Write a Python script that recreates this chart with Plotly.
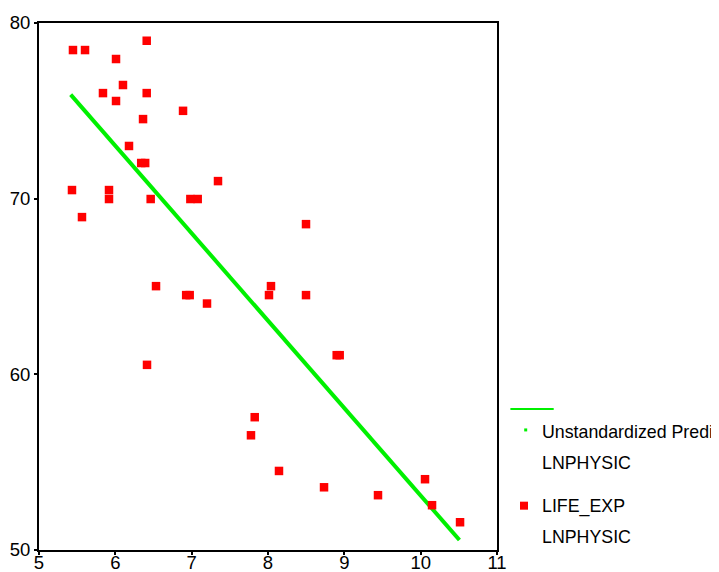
import plotly.graph_objects as go

# Observed data: LIFE_EXP vs LNPHYSIC
lnphysic = [5.445, 5.603, 6.009, 6.411, 6.100, 5.838, 6.411, 6.009, 6.887, 6.363,
            6.179, 6.339, 6.391, 7.345, 5.432, 5.917, 5.917, 6.463, 6.983, 7.079,
            5.563, 8.498, 6.533, 8.039, 8.013, 6.928, 6.974, 7.201, 8.498, 8.900,
            8.939, 6.415, 7.826, 7.777, 8.144, 8.734, 9.441, 10.057, 10.149, 10.516]
life_exp = [78.46, 78.46, 77.95, 78.99, 76.47, 76.01, 76.01, 75.56, 75.00, 74.53,
            73.00, 72.03, 72.03, 71.00, 70.49, 70.49, 69.98, 69.98, 69.98, 69.98,
            68.95, 68.55, 65.02, 65.02, 64.51, 64.51, 64.51, 64.03, 64.51, 61.09,
            61.09, 60.54, 57.56, 56.53, 54.50, 53.57, 53.12, 54.03, 52.55, 51.58]

# Unstandardized predicted values (regression line ends)
pred_x = [5.415, 10.508]
pred_y = [75.92, 50.57]

x_ticks = [5, 6, 7, 8, 9, 10, 11]
y_ticks = [50, 60, 70, 80]

FONT = "Liberation Sans, Arial, sans-serif"
FS = 18.5
FS_LEG = 17.8
GREEN = "#00F000"

fig = go.Figure()
fig.add_trace(go.Scatter(
    x=pred_x, y=pred_y, mode="lines",
    line=dict(color=GREEN, width=4),
    showlegend=False, hoverinfo="skip"))
fig.add_trace(go.Scatter(
    x=lnphysic, y=life_exp, mode="markers",
    marker=dict(symbol="square", size=8.5, color="#FF0000", line=dict(width=0)),
    showlegend=False))

axis_common = dict(
    showline=True, linecolor="black", linewidth=2, mirror=True,
    showgrid=False, zeroline=False, automargin=False,
    ticks="outside", ticklen=3, tickwidth=2, tickcolor="black",
    tickfont=dict(family=FONT, size=FS, color="black"),
)
fig.update_xaxes(range=[5, 11], tickvals=x_ticks, ticktext=[str(v) for v in x_ticks],
                 ticklabelstandoff=-8, **axis_common)
fig.update_yaxes(range=[50, 80], tickvals=y_ticks, ticktext=[str(v) for v in y_ticks], **axis_common)

# Legend drawn manually (SPSS style); coordinates in window pixels -> paper
W = 458.0
H = 526.7
def px(x):
    return (x - 39.3) / W
def py(y):
    return (550.0 - y) / H

shapes = [
    dict(type="line", xref="paper", yref="paper", x0=px(510.7), x1=px(554), y0=py(409), y1=py(409),
         line=dict(color=GREEN, width=2)),
    dict(type="rect", xref="paper", yref="paper", x0=px(524.5), x1=px(527.5), y0=py(431.5), y1=py(428.5),
         line=dict(width=0), fillcolor=GREEN),
    dict(type="rect", xref="paper", yref="paper", x0=px(520.3), x1=px(528.3), y0=py(509.7), y1=py(501.7),
         line=dict(width=0), fillcolor="#FF0000"),
]
legend_text = [("Unstandardized Predi", 431.7), ("LNPHYSIC", 463.3),
               ("LIFE_EXP", 506.7), ("LNPHYSIC", 536.7)]
annotations = [
    dict(text=t, xref="paper", yref="paper", x=px(541.0), y=py(yy), xanchor="left", yanchor="middle",
         showarrow=False, font=dict(family=FONT, size=FS_LEG, color="black"), borderpad=0)
    for t, yy in legend_text
]

# The page body adds an 8px offset, so the figure is 711x564 and margins are relative to it
fig.update_layout(
    width=711, height=564,
    margin=dict(l=31.3, r=221.7, t=15.3, b=22, pad=0),
    paper_bgcolor="white", plot_bgcolor="white",
    shapes=shapes, annotations=annotations,
    showlegend=False,
)

fig.write_html("out.html")
